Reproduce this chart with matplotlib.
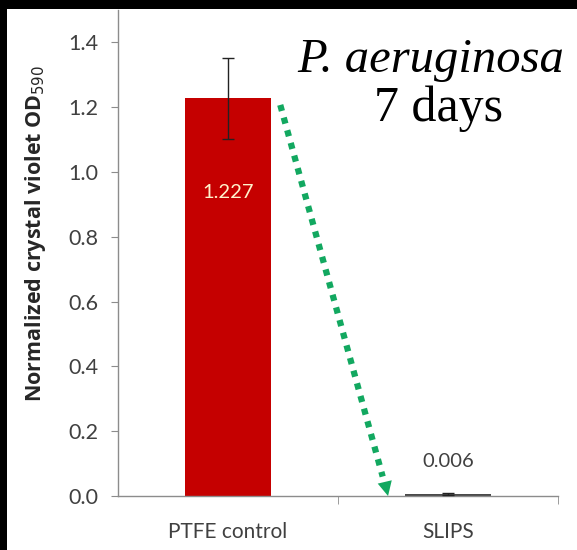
"""Crystal violet biofilm assay: PTFE control vs SLIPS, P. aeruginosa 7 days."""

import matplotlib
matplotlib.use("Agg")
import matplotlib.pyplot as plt
from matplotlib.patches import Rectangle

categories = ["PTFE control", "SLIPS"]
values = [1.227, 0.006]
errors = [0.125, 0.003]
value_labels = ["1.227", "0.006"]
y_ticks = [0.0, 0.2, 0.4, 0.6, 0.8, 1.0, 1.2, 1.4]

BAR_COLORS = ["#c50000", "#4a4a4a"]
AXIS_COLOR = "#8c8c8c"
TEXT_COLOR = "#404040"
ARROW_COLOR = "#12a860"
BAR_WIDTH = 0.395

plt.rcParams["font.family"] = ["Lato", "DejaVu Sans"]

fig = plt.figure(figsize=(5.77, 5.5), dpi=100)
fig.patch.set_facecolor("black")
fig.patches.append(Rectangle((7 / 577, 0), 1, 1 - 9 / 550, transform=fig.transFigure,
                             facecolor="white", edgecolor="none", zorder=-5))

ax = fig.add_axes([118 / 577, 1 - 496 / 550, 440 / 577, 486 / 550])
ax.set_facecolor("none")

positions = list(range(len(categories)))
ax.bar(positions, values, width=BAR_WIDTH, color=BAR_COLORS, zorder=2)
ax.errorbar(positions, values, yerr=errors, fmt="none", ecolor="#222222",
            elinewidth=1, capsize=4, capthick=1, zorder=3)

# value labels
ax.text(positions[0], values[0] - 0.29, value_labels[0], ha="center", va="center",
        color="#fff2cc", fontsize=14.5)
ax.text(positions[1], values[1] + 0.1, value_labels[1], ha="center", va="center",
        color=TEXT_COLOR, fontsize=14.5)

# dotted green arrow from the control bar down to SLIPS
x_start = positions[0] + BAR_WIDTH / 2 + 0.04
x_end = positions[1] - BAR_WIDTH / 2 - 0.075
y_start = values[0] - 0.02
y_end = 0.0
head = 0.06
frac = 1 - head / (y_start - y_end)
x_mid = x_start + (x_end - x_start) * frac
y_mid = y_start + (y_end - y_start) * frac
ax.plot([x_start, x_mid], [y_start, y_mid], linestyle=(0, (1, 1.1)), linewidth=4.5,
        color=ARROW_COLOR, dash_capstyle="butt", zorder=4, clip_on=False)
ax.annotate("", xy=(x_end, y_end), xytext=(x_mid, y_mid + 0.01),
            arrowprops=dict(arrowstyle="-|>", color=ARROW_COLOR, lw=0,
                            mutation_scale=26, shrinkA=0, shrinkB=0), zorder=4)

ax.set_xlim(-0.5, len(categories) - 0.5)
ax.set_ylim(0, 1.5)
ax.set_yticks(y_ticks)
ax.set_yticklabels([f"{t:.1f}" for t in y_ticks])
ax.set_xticks(positions)
ax.set_xticklabels(categories)
ax.set_xticks([0.5, 1.5], minor=True)
ax.tick_params(axis="x", which="major", length=0, pad=19, labelsize=15, labelcolor=TEXT_COLOR)
ax.tick_params(axis="x", which="minor", length=6, color=AXIS_COLOR)
ax.tick_params(axis="y", length=5, color=AXIS_COLOR, pad=9, labelsize=15.5, labelcolor=TEXT_COLOR)

for side in ("top", "right"):
    ax.spines[side].set_visible(False)
for side in ("left", "bottom"):
    ax.spines[side].set_color(AXIS_COLOR)
    ax.spines[side].set_linewidth(1)

ax.set_ylabel("Normalized crystal violet OD$_{590}$", fontsize=15.5, fontweight="bold",
              family=["Open Sans", "DejaVu Sans"], color="#262626")
ax.yaxis.set_label_coords(-0.158, 0.54)

fig.text(431 / 577, 1 - 60 / 550, "P. aeruginosa", ha="center", va="center",
         fontsize=35, fontstyle="italic", family=["Liberation Serif", "DejaVu Serif"], color="black")
fig.text(438 / 577, 1 - 109 / 550, "7 days", ha="center", va="center",
         fontsize=36, family=["Liberation Serif", "DejaVu Serif"], color="black")

fig.savefig("out.png", dpi=100, facecolor=fig.get_facecolor())
